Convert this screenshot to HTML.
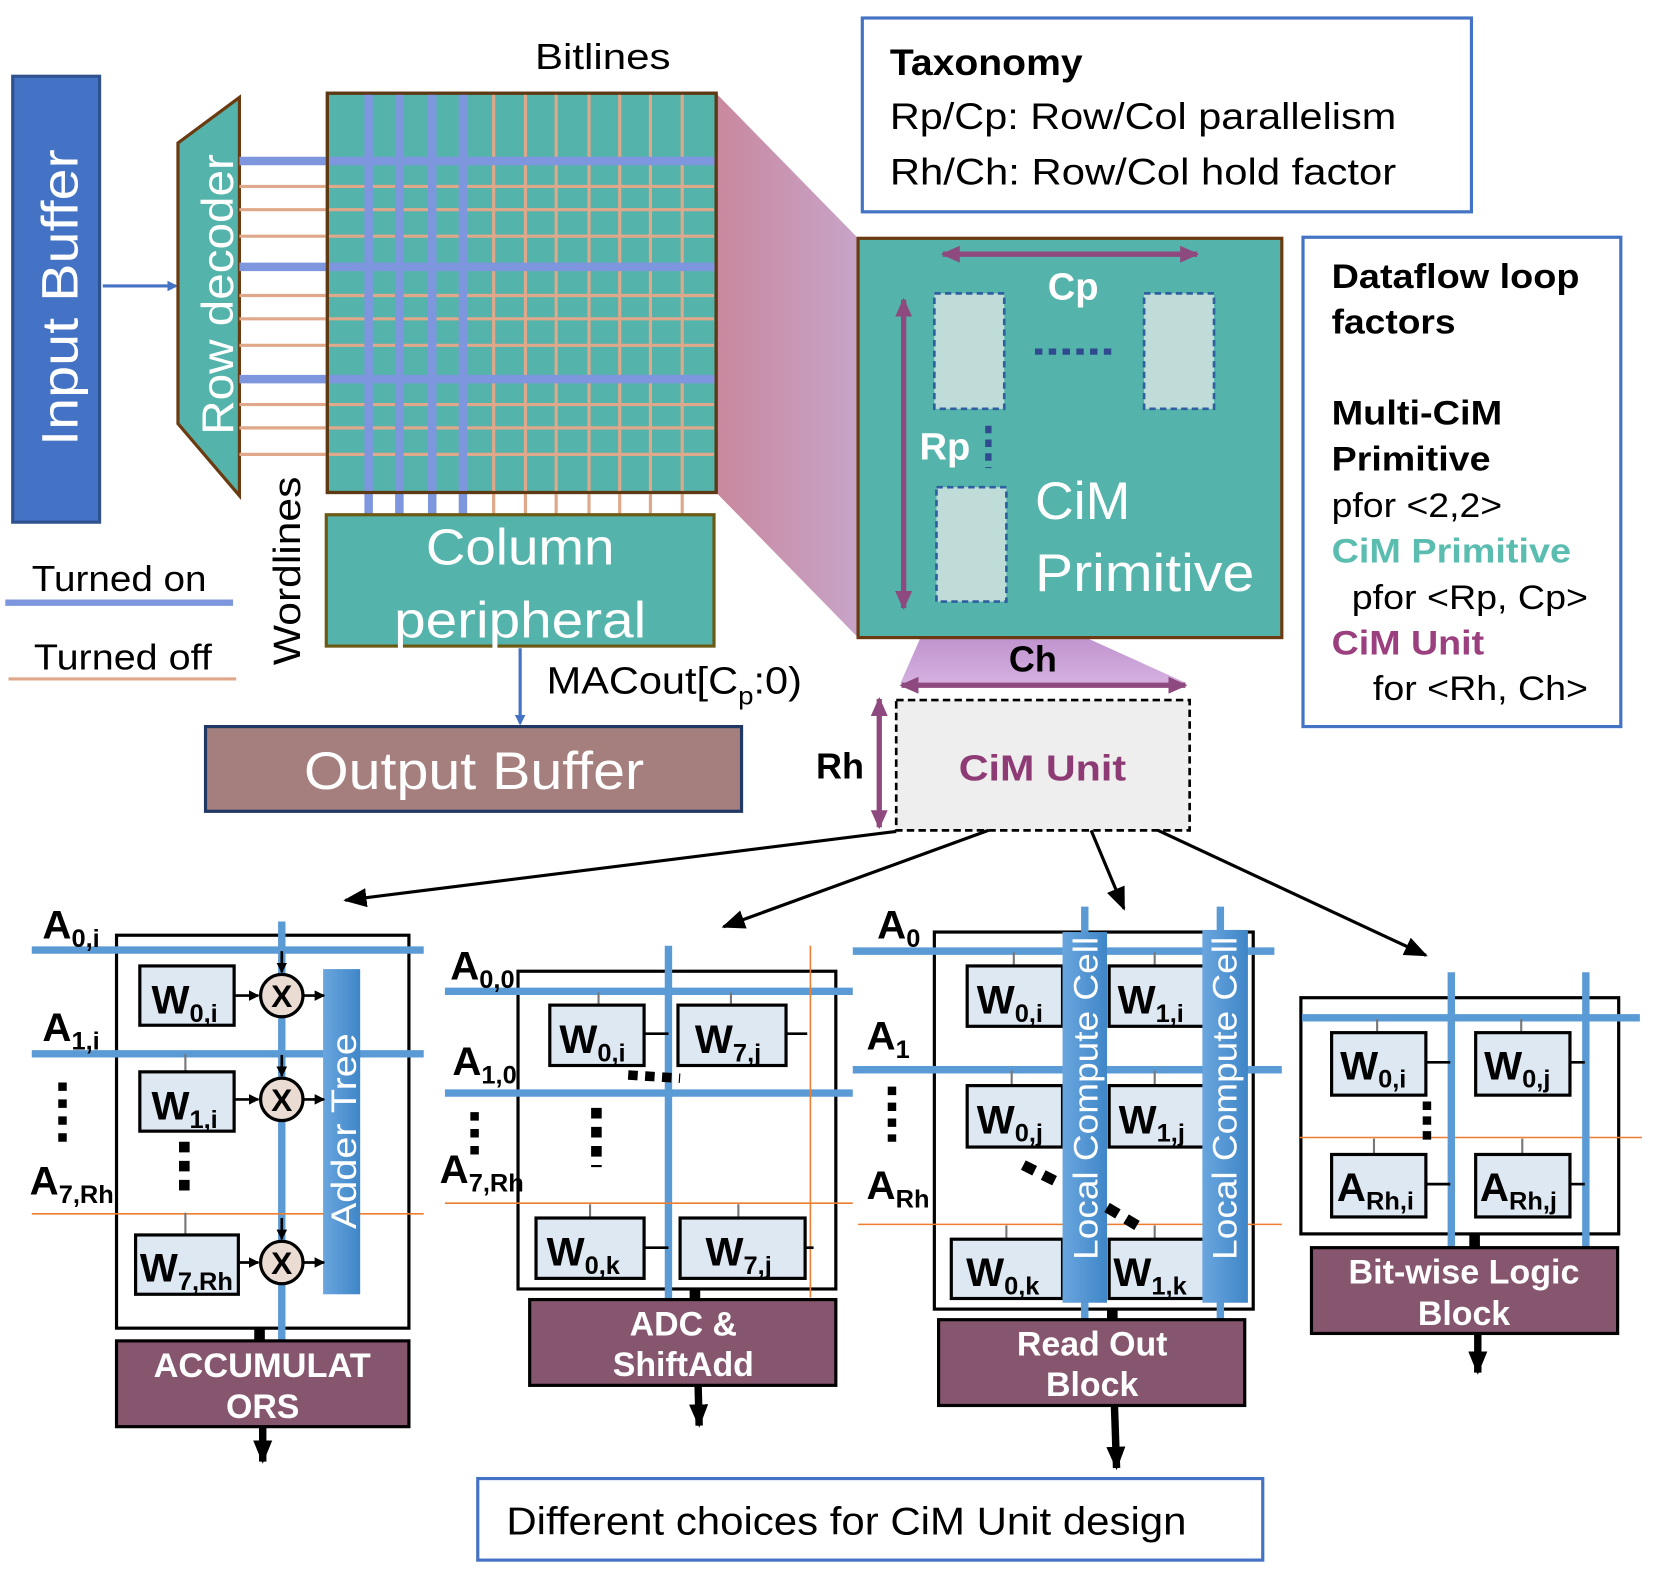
<!DOCTYPE html>
<html><head><meta charset="utf-8"><style>
html,body{margin:0;padding:0;background:#fff}
svg{display:block}
text{font-family:"Liberation Sans",sans-serif}
.b{font-weight:bold}
</style></head><body>
<svg width="1660" height="1576" viewBox="0 0 1567 1488" preserveAspectRatio="none" xmlns="http://www.w3.org/2000/svg">
<defs>
<linearGradient id="fan" x1="0" y1="0" x2="1" y2="0"><stop offset="0" stop-color="#c9889e"/><stop offset="1" stop-color="#c7a4c8"/></linearGradient>
<linearGradient id="fan2" x1="0" y1="0" x2="0" y2="1"><stop offset="0" stop-color="#b07cc0"/><stop offset="1" stop-color="#d4b0e0"/></linearGradient>
<linearGradient id="bar" x1="0" y1="0" x2="1" y2="0"><stop offset="0" stop-color="#6aa6de"/><stop offset="1" stop-color="#3f86c8"/></linearGradient>
<marker id="ab" markerWidth="10" markerHeight="10" refX="8" refY="5" orient="auto" markerUnits="userSpaceOnUse"><path d="M0,0L10,5L0,10z" fill="#4472c4"/></marker>
<marker id="ak" markerWidth="22" markerHeight="18" refX="20" refY="9" orient="auto" markerUnits="userSpaceOnUse"><path d="M0,0L22,9L0,18z" fill="#000"/></marker>
<marker id="ap" markerWidth="18" markerHeight="16" refX="16" refY="8" orient="auto-start-reverse" markerUnits="userSpaceOnUse"><path d="M0,0L18,8L0,16z" fill="#8e4a7e"/></marker>
<marker id="as" markerWidth="10" markerHeight="10" refX="9" refY="5" orient="auto" markerUnits="userSpaceOnUse"><path d="M0,0L10,5L0,10z" fill="#000"/></marker>
</defs>

<polygon points="676,88 810,225 810,602 676,465" fill="url(#fan)"/>
<polygon points="884,568 950,568 1120,645 850,645" fill="url(#fan2)"/>

<rect x="12" y="72" width="82" height="421" fill="#4472c4" stroke="#2f528f" stroke-width="3"/>
<text transform="translate(73,281) rotate(-90)" text-anchor="middle" font-size="48" fill="#fff" textLength="280" lengthAdjust="spacingAndGlyphs">Input Buffer</text>
<line x1="97" y1="270" x2="166" y2="270" stroke="#4472c4" stroke-width="3" marker-end="url(#ab)"/>

<polygon points="168,135 226,92 226,468 168,400" fill="#54b3aa" stroke="#6b3a10" stroke-width="3"/>
<text transform="translate(220,278) rotate(-90)" text-anchor="middle" font-size="42" fill="#fff" textLength="265" lengthAdjust="spacingAndGlyphs">Row decoder</text>

<rect x="309" y="88" width="367" height="377" fill="#54b3aa" stroke="#5e3a14" stroke-width="3"/>
<g stroke="#dfa88a" stroke-width="3">
<line x1="226" y1="176" x2="674" y2="176"/><line x1="226" y1="198" x2="674" y2="198"/><line x1="226" y1="223" x2="674" y2="223"/>
<line x1="226" y1="279" x2="674" y2="279"/><line x1="226" y1="301" x2="674" y2="301"/><line x1="226" y1="326" x2="674" y2="326"/>
<line x1="226" y1="382" x2="674" y2="382"/><line x1="226" y1="404" x2="674" y2="404"/><line x1="226" y1="429" x2="674" y2="429"/>
<line x1="466" y1="88" x2="466" y2="486"/><line x1="496" y1="88" x2="496" y2="486"/><line x1="525" y1="88" x2="525" y2="486"/>
<line x1="556" y1="88" x2="556" y2="486"/><line x1="585" y1="88" x2="585" y2="486"/><line x1="614" y1="88" x2="614" y2="486"/><line x1="644" y1="88" x2="644" y2="486"/>
</g>
<g stroke="#7d96de" stroke-width="8">
<line x1="226" y1="152" x2="676" y2="152"/><line x1="226" y1="252" x2="676" y2="252"/><line x1="226" y1="358" x2="676" y2="358"/>
<line x1="348" y1="88" x2="348" y2="486"/><line x1="377" y1="88" x2="377" y2="486"/><line x1="408" y1="88" x2="408" y2="486"/><line x1="437" y1="88" x2="437" y2="486"/>
</g>
<rect x="309" y="88" width="367" height="377" fill="none" stroke="#5e3a14" stroke-width="3"/>
<text x="505" y="65" font-size="34" textLength="128" lengthAdjust="spacingAndGlyphs">Bitlines</text>
<text transform="translate(283,539) rotate(-90)" text-anchor="middle" font-size="36" textLength="178" lengthAdjust="spacingAndGlyphs">Wordlines</text>

<rect x="308" y="486" width="366" height="124" fill="#54b3aa" stroke="#6b5a14" stroke-width="3"/>
<text x="402" y="533" font-size="48" fill="#fff" textLength="178" lengthAdjust="spacingAndGlyphs">Column</text>
<text x="372" y="602" font-size="48" fill="#fff" textLength="238" lengthAdjust="spacingAndGlyphs">peripheral</text>

<text x="30" y="558" font-size="34" textLength="165" lengthAdjust="spacingAndGlyphs">Turned on</text>
<line x1="5" y1="569" x2="220" y2="569" stroke="#7d96de" stroke-width="6"/>
<text x="32" y="632" font-size="34" textLength="168" lengthAdjust="spacingAndGlyphs">Turned off</text>
<line x1="8" y1="641" x2="223" y2="641" stroke="#dfa88a" stroke-width="3"/>

<line x1="491" y1="612" x2="491" y2="683" stroke="#4472c4" stroke-width="3" marker-end="url(#ab)"/>
<text x="516" y="655" font-size="36" textLength="241" lengthAdjust="spacingAndGlyphs">MACout[C<tspan font-size="24" dy="10">p</tspan><tspan dy="-10">:0)</tspan></text>

<rect x="194" y="686" width="506" height="80" fill="#a57f7d" stroke="#1f3864" stroke-width="3"/>
<text x="287" y="745" font-size="50" fill="#fff" textLength="321" lengthAdjust="spacingAndGlyphs">Output Buffer</text>

<rect x="814" y="17" width="575" height="183" fill="#fff" stroke="#4472c4" stroke-width="3"/>
<text x="840" y="71" font-size="35" class="b" textLength="182" lengthAdjust="spacingAndGlyphs">Taxonomy</text>
<text x="840" y="122" font-size="35" textLength="478" lengthAdjust="spacingAndGlyphs">Rp/Cp: Row/Col parallelism</text>
<text x="840" y="174" font-size="35" textLength="478" lengthAdjust="spacingAndGlyphs">Rh/Ch: Row/Col hold factor</text>

<rect x="810" y="225" width="400" height="377" fill="#54b3aa" stroke="#6b3a10" stroke-width="3"/>
<line x1="890" y1="240" x2="1130" y2="240" stroke="#8e4a7e" stroke-width="5" marker-start="url(#ap)" marker-end="url(#ap)"/>
<text x="1013" y="283" text-anchor="middle" font-size="36" class="b" fill="#fff">Cp</text>
<g fill="#c0dcd8" stroke="#2e5fa0" stroke-width="2.5" stroke-dasharray="6,4">
<rect x="882" y="277" width="66" height="109"/><rect x="1080" y="277" width="66" height="109"/><rect x="884" y="460" width="66" height="108"/>
</g>
<line x1="977" y1="332" x2="1050" y2="332" stroke="#2f4a8f" stroke-width="6" stroke-dasharray="7,6"/>
<line x1="933" y1="402" x2="933" y2="442" stroke="#2f4a8f" stroke-width="6" stroke-dasharray="7,6"/>
<line x1="853" y1="283" x2="853" y2="574" stroke="#8e4a7e" stroke-width="5" marker-start="url(#ap)" marker-end="url(#ap)"/>
<text x="868" y="434" font-size="36" class="b" fill="#fff">Rp</text>
<text x="977" y="490" font-size="50" fill="#fff" textLength="90" lengthAdjust="spacingAndGlyphs">CiM</text>
<text x="977" y="558" font-size="50" fill="#fff" textLength="207" lengthAdjust="spacingAndGlyphs">Primitive</text>

<text x="975" y="634" text-anchor="middle" font-size="34" class="b">Ch</text>
<line x1="851" y1="647" x2="1119" y2="647" stroke="#8e4a7e" stroke-width="5" marker-start="url(#ap)" marker-end="url(#ap)"/>
<rect x="846" y="661" width="277" height="123" fill="#eeeeee" stroke="#000" stroke-width="2.5" stroke-dasharray="7,4"/>
<text x="905" y="737" font-size="34" class="b" fill="#8e3a74" textLength="158" lengthAdjust="spacingAndGlyphs">CiM Unit</text>
<line x1="830" y1="660" x2="830" y2="781" stroke="#8e4a7e" stroke-width="5" marker-start="url(#ap)" marker-end="url(#ap)"/>
<text x="793" y="735" text-anchor="middle" font-size="34" class="b">Rh</text>

<rect x="1230" y="224" width="300" height="462" fill="#fff" stroke="#4472c4" stroke-width="3"/>
<g font-size="32" lengthAdjust="spacingAndGlyphs">
<text x="1257" y="272" class="b" textLength="234" lengthAdjust="spacingAndGlyphs">Dataflow loop</text>
<text x="1257" y="315" class="b" textLength="117" lengthAdjust="spacingAndGlyphs">factors</text>
<text x="1257" y="401" class="b" textLength="161" lengthAdjust="spacingAndGlyphs">Multi-CiM</text>
<text x="1257" y="444" class="b" textLength="150" lengthAdjust="spacingAndGlyphs">Primitive</text>
<text x="1257" y="488" textLength="161" lengthAdjust="spacingAndGlyphs">pfor &lt;2,2&gt;</text>
<text x="1257" y="531" class="b" fill="#5bbcb0" textLength="226" lengthAdjust="spacingAndGlyphs">CiM Primitive</text>
<text x="1276" y="575" textLength="223" lengthAdjust="spacingAndGlyphs">pfor &lt;Rp, Cp&gt;</text>
<text x="1257" y="618" class="b" fill="#9b3f7f" textLength="144" lengthAdjust="spacingAndGlyphs">CiM Unit</text>
<text x="1296" y="661" textLength="203" lengthAdjust="spacingAndGlyphs">for &lt;Rh, Ch&gt;</text>
</g>

<g stroke="#000" stroke-width="3">
<line x1="846" y1="785" x2="326" y2="850" marker-end="url(#ak)"/>
<line x1="933" y1="784" x2="683" y2="875" marker-end="url(#ak)"/>
<line x1="1030" y1="784" x2="1061" y2="858" marker-end="url(#ak)"/>
<line x1="1093" y1="784" x2="1346" y2="902" marker-end="url(#ak)"/>
</g>

<!-- Sub 1 -->
<rect x="110" y="883" width="276" height="371" fill="#fff" stroke="#000" stroke-width="3"/>
<g stroke="#5b9bd5" stroke-width="7"><line x1="30" y1="897" x2="400" y2="897"/><line x1="30" y1="995" x2="400" y2="995"/><line x1="266" y1="870" x2="266" y2="1266"/></g>
<line x1="30" y1="1146" x2="400" y2="1146" stroke="#ed7d31" stroke-width="1.5"/>
<rect x="305" y="915" width="35" height="307" fill="url(#bar)"/>
<text transform="translate(336,1068) rotate(-90)" text-anchor="middle" font-size="33" fill="#fff" textLength="185" lengthAdjust="spacingAndGlyphs">Adder Tree</text>
<g stroke="#777" stroke-width="2"><line x1="175" y1="995" x2="175" y2="1012"/><line x1="175" y1="1145" x2="175" y2="1166"/></g>
<g fill="#dde8f2" stroke="#000" stroke-width="3">
<rect x="132" y="912" width="89" height="56"/><rect x="132" y="1012" width="89" height="56"/><rect x="128" y="1166" width="97" height="56"/>
</g>
<g font-weight="bold" font-size="38">
<text x="143" y="957">W<tspan font-size="24" dy="8">0,i</tspan></text>
<text x="143" y="1057">W<tspan font-size="24" dy="8">1,i</tspan></text>
<text x="132" y="1210">W<tspan font-size="24" dy="8">7,Rh</tspan></text>
<text x="40" y="886">A<tspan font-size="24" dy="8">0,i</tspan></text>
<text x="40" y="983">A<tspan font-size="24" dy="8">1,i</tspan></text>
<text x="28" y="1128">A<tspan font-size="24" dy="8">7,Rh</tspan></text>
</g>
<g stroke="#000" stroke-width="2.5">
<line x1="221" y1="940" x2="244" y2="940" marker-end="url(#as)"/><line x1="221" y1="1038" x2="244" y2="1038" marker-end="url(#as)"/><line x1="225" y1="1192" x2="244" y2="1192" marker-end="url(#as)"/>
<line x1="286" y1="940" x2="306" y2="940" marker-end="url(#as)"/><line x1="286" y1="1038" x2="306" y2="1038" marker-end="url(#as)"/><line x1="286" y1="1192" x2="306" y2="1192" marker-end="url(#as)"/>
<line x1="266" y1="898" x2="266" y2="918" marker-end="url(#as)"/><line x1="266" y1="996" x2="266" y2="1016" marker-end="url(#as)"/><line x1="266" y1="1150" x2="266" y2="1170" marker-end="url(#as)"/>
</g>
<g fill="#eadcd3" stroke="#000" stroke-width="3"><circle cx="266" cy="940" r="20"/><circle cx="266" cy="1038" r="20"/><circle cx="266" cy="1192" r="20"/></g>
<g font-weight="bold" font-size="30" text-anchor="middle"><text x="266" y="951">X</text><text x="266" y="1049">X</text><text x="266" y="1203">X</text></g>
<line x1="59" y1="1022" x2="59" y2="1078" stroke="#000" stroke-width="8" stroke-dasharray="8,8"/>
<line x1="174" y1="1078" x2="174" y2="1132" stroke="#000" stroke-width="10" stroke-dasharray="10,8"/>
<rect x="240" y="1254" width="10" height="12" fill="#000"/>
<rect x="110" y="1266" width="276" height="81" fill="#86566e" stroke="#000" stroke-width="3"/>
<text x="145" y="1300" font-size="32" class="b" fill="#fff" textLength="205" lengthAdjust="spacingAndGlyphs">ACCUMULAT</text>
<text x="248" y="1339" text-anchor="middle" font-size="32" class="b" fill="#fff">ORS</text>
<line x1="248" y1="1347" x2="248" y2="1380" stroke="#000" stroke-width="7" marker-end="url(#ak)"/>

<!-- Sub 2 -->
<rect x="489" y="917" width="300" height="300" fill="#fff" stroke="#000" stroke-width="3"/>
<g stroke="#5b9bd5" stroke-width="7"><line x1="420" y1="936" x2="805" y2="936"/><line x1="420" y1="1032" x2="805" y2="1032"/><line x1="631" y1="893" x2="631" y2="1228"/></g>
<g stroke="#ed7d31" stroke-width="1.5"><line x1="420" y1="1136" x2="805" y2="1136"/><line x1="765" y1="893" x2="765" y2="1225"/></g>
<g stroke="#777" stroke-width="2"><line x1="565" y1="937" x2="565" y2="949"/><line x1="690" y1="937" x2="690" y2="949"/><line x1="557" y1="1137" x2="557" y2="1150"/><line x1="697" y1="1137" x2="697" y2="1150"/></g>
<g stroke="#000" stroke-width="2.5"><line x1="608" y1="976" x2="631" y2="976"/><line x1="742" y1="976" x2="762" y2="976"/><line x1="608" y1="1178" x2="631" y2="1178"/><line x1="752" y1="1178" x2="768" y2="1178"/></g>
<g fill="#dde8f2" stroke="#000" stroke-width="3">
<rect x="519" y="949" width="89" height="57"/><rect x="640" y="949" width="102" height="57"/><rect x="506" y="1150" width="102" height="57"/><rect x="642" y="1150" width="118" height="57"/>
</g>
<g font-weight="bold" font-size="38">
<text x="528" y="994">W<tspan font-size="24" dy="8">0,i</tspan></text>
<text x="656" y="994">W<tspan font-size="24" dy="8">7,j</tspan></text>
<text x="516" y="1195">W<tspan font-size="24" dy="8">0,k</tspan></text>
<text x="666" y="1195">W<tspan font-size="24" dy="8">7,j</tspan></text>
<text x="425" y="925">A<tspan font-size="24" dy="8">0,0</tspan></text>
<text x="427" y="1015">A<tspan font-size="24" dy="8">1,0</tspan></text>
<text x="415" y="1117">A<tspan font-size="24" dy="8">7,Rh</tspan></text>
</g>
<line x1="593" y1="1015" x2="642" y2="1018" stroke="#000" stroke-width="9" stroke-dasharray="9,7"/>
<line x1="563" y1="1046" x2="563" y2="1102" stroke="#000" stroke-width="10" stroke-dasharray="10,8"/>
<line x1="448" y1="1050" x2="448" y2="1092" stroke="#000" stroke-width="8" stroke-dasharray="8,8"/>
<rect x="651" y="1217" width="10" height="10" fill="#000"/>
<rect x="500" y="1227" width="289" height="81" fill="#86566e" stroke="#000" stroke-width="3"/>
<text x="645" y="1261" text-anchor="middle" font-size="32" class="b" fill="#fff">ADC &amp;</text>
<text x="645" y="1299" text-anchor="middle" font-size="32" class="b" fill="#fff">ShiftAdd</text>
<line x1="659" y1="1308" x2="660" y2="1346" stroke="#000" stroke-width="7" marker-end="url(#ak)"/>

<!-- Sub 3 -->
<rect x="882" y="880" width="301" height="356" fill="#fff" stroke="#000" stroke-width="3"/>
<g stroke="#5b9bd5" stroke-width="7"><line x1="805" y1="898" x2="1203" y2="898"/><line x1="805" y1="1010" x2="1210" y2="1010"/><line x1="1024" y1="856" x2="1024" y2="1245"/><line x1="1152" y1="856" x2="1152" y2="1245"/></g>
<line x1="810" y1="1156" x2="1210" y2="1156" stroke="#ed7d31" stroke-width="1.5"/>
<g stroke="#777" stroke-width="2"><line x1="957" y1="899" x2="957" y2="912"/><line x1="1090" y1="899" x2="1090" y2="912"/><line x1="955" y1="1011" x2="955" y2="1025"/><line x1="1090" y1="1011" x2="1090" y2="1025"/><line x1="950" y1="1157" x2="950" y2="1170"/><line x1="1090" y1="1157" x2="1090" y2="1170"/></g>
<g fill="#dde8f2" stroke="#000" stroke-width="3">
<rect x="913" y="912" width="90" height="57"/><rect x="1047" y="912" width="90" height="57"/>
<rect x="913" y="1025" width="90" height="58"/><rect x="1047" y="1025" width="90" height="58"/>
<rect x="898" y="1170" width="105" height="56"/><rect x="1047" y="1170" width="90" height="56"/>
</g>
<g font-weight="bold" font-size="38">
<text x="922" y="957">W<tspan font-size="24" dy="8">0,i</tspan></text>
<text x="1055" y="957">W<tspan font-size="24" dy="8">1,i</tspan></text>
<text x="922" y="1070">W<tspan font-size="24" dy="8">0,j</tspan></text>
<text x="1056" y="1070">W<tspan font-size="24" dy="8">1,j</tspan></text>
<text x="912" y="1214">W<tspan font-size="24" dy="8">0,k</tspan></text>
<text x="1051" y="1214">W<tspan font-size="24" dy="8">1,k</tspan></text>
<text x="828" y="886">A<tspan font-size="24" dy="8">0</tspan></text>
<text x="818" y="991">A<tspan font-size="24" dy="8">1</tspan></text>
<text x="818" y="1132">A<tspan font-size="24" dy="8">Rh</tspan></text>
</g>
<rect x="1003" y="880" width="42" height="350" fill="url(#bar)"/>
<rect x="1135" y="878" width="43" height="352" fill="url(#bar)"/>
<text transform="translate(1036,1037) rotate(-90)" text-anchor="middle" font-size="32" fill="#fff" textLength="305" lengthAdjust="spacingAndGlyphs">Local Compute Cell</text>
<text transform="translate(1167,1037) rotate(-90)" text-anchor="middle" font-size="32" fill="#fff" textLength="305" lengthAdjust="spacingAndGlyphs">Local Compute Cell</text>
<line x1="842" y1="1026" x2="842" y2="1078" stroke="#000" stroke-width="8" stroke-dasharray="8,7"/>
<line x1="966" y1="1100" x2="1002" y2="1118" stroke="#000" stroke-width="10" stroke-dasharray="12,9"/>
<line x1="1045" y1="1140" x2="1075" y2="1158" stroke="#000" stroke-width="10" stroke-dasharray="12,9"/>
<rect x="1045" y="1236" width="10" height="10" fill="#000"/>
<rect x="886" y="1246" width="289" height="81" fill="#86566e" stroke="#000" stroke-width="3"/>
<text x="1031" y="1280" text-anchor="middle" font-size="32" class="b" fill="#fff">Read Out</text>
<text x="1031" y="1318" text-anchor="middle" font-size="32" class="b" fill="#fff">Block</text>
<line x1="1052" y1="1327" x2="1054" y2="1386" stroke="#000" stroke-width="7" marker-end="url(#ak)"/>

<!-- Sub 4 -->
<rect x="1228" y="942" width="300" height="223" fill="#fff" stroke="#000" stroke-width="3"/>
<line x1="1227" y1="1074" x2="1550" y2="1074" stroke="#ed7d31" stroke-width="1.5"/>
<g stroke="#5b9bd5" stroke-width="7"><line x1="1229" y1="961" x2="1548" y2="961"/><line x1="1370" y1="918" x2="1370" y2="1178"/><line x1="1497" y1="918" x2="1497" y2="1178"/></g>
<g stroke="#777" stroke-width="2"><line x1="1300" y1="962" x2="1300" y2="975"/><line x1="1436" y1="962" x2="1436" y2="975"/><line x1="1297" y1="1075" x2="1297" y2="1090"/><line x1="1437" y1="1075" x2="1437" y2="1090"/></g>
<g stroke="#000" stroke-width="2.5"><line x1="1346" y1="1003" x2="1369" y2="1003"/><line x1="1482" y1="1003" x2="1496" y2="1003"/><line x1="1346" y1="1118" x2="1369" y2="1118"/><line x1="1482" y1="1118" x2="1496" y2="1118"/></g>
<g fill="#dde8f2" stroke="#000" stroke-width="3">
<rect x="1257" y="975" width="89" height="59"/><rect x="1393" y="975" width="89" height="59"/><rect x="1257" y="1090" width="89" height="59"/><rect x="1393" y="1090" width="89" height="59"/>
</g>
<g font-weight="bold" font-size="38">
<text x="1265" y="1019">W<tspan font-size="24" dy="8">0,i</tspan></text>
<text x="1401" y="1019">W<tspan font-size="24" dy="8">0,j</tspan></text>
<text x="1262" y="1134">A<tspan font-size="24" dy="8">Rh,i</tspan></text>
<text x="1397" y="1134">A<tspan font-size="24" dy="8">Rh,j</tspan></text>
</g>
<line x1="1347" y1="1040" x2="1347" y2="1082" stroke="#000" stroke-width="8" stroke-dasharray="8,6"/>
<rect x="1387" y="1165" width="10" height="13" fill="#000"/>
<rect x="1238" y="1178" width="289" height="81" fill="#86566e" stroke="#000" stroke-width="3"/>
<text x="1382" y="1212" text-anchor="middle" font-size="32" class="b" fill="#fff" textLength="218" lengthAdjust="spacingAndGlyphs">Bit-wise Logic</text>
<text x="1382" y="1251" text-anchor="middle" font-size="32" class="b" fill="#fff">Block</text>
<line x1="1395" y1="1259" x2="1395" y2="1296" stroke="#000" stroke-width="7" marker-end="url(#ak)"/>

<rect x="451" y="1396" width="741" height="77" fill="#fff" stroke="#4472c4" stroke-width="3"/>
<text x="478" y="1449" font-size="37" textLength="642" lengthAdjust="spacingAndGlyphs">Different choices for CiM Unit design</text>
</svg>
</body></html>
